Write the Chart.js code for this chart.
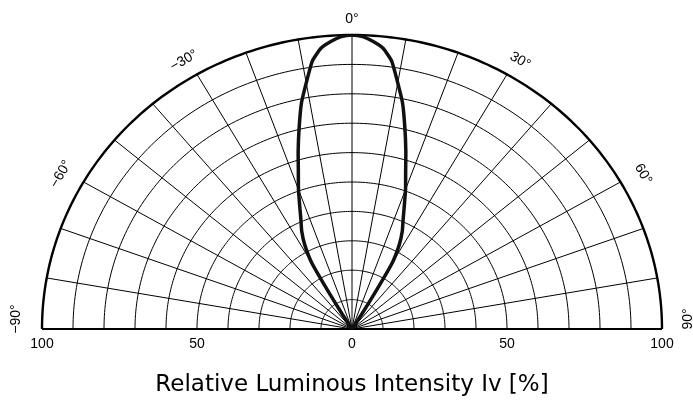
<!DOCTYPE html>
<html>
<head>
<meta charset="utf-8">
<script src="https://cdn.jsdelivr.net/npm/chart.js@4/dist/chart.umd.min.js"></script>
<style>
  body { margin: 0; background: #fff; }
  #wrap { width: 693px; height: 401px; }
</style>
</head>
<body>
<div id="wrap"><canvas id="polarChart"></canvas></div>
<script>
// Radiation pattern: angle (deg) vs relative intensity (%), one half, mirrored
const angles    = [0, 2, 4, 6, 8, 10, 12, 14, 16, 18, 20, 22, 24, 26, 28, 30, 31, 32, 33, 34, 40, 50, 60, 70, 80, 90];
const intensity = [100, 99.5, 98, 96, 92, 85, 78.5, 70.5, 63, 56, 50.5, 45, 40.5, 37, 32.5, 26, 15, 6, 1, 0, 0, 0, 0, 0, 0, 0];

// Grid
const rings = [10, 20, 30, 40, 50, 60, 70, 80, 90, 100];
const spokes = [-90, -80, -70, -60, -50, -40, -30, -20, -10, 0, 10, 20, 30, 40, 50, 60, 70, 80, 90];

// Labels
const angleLabelPos = [-90, -60, -30, 0, 30, 60, 90];
const angleLabelText = ['\u221290\u00b0', '\u221260\u00b0', '\u221230\u00b0', '0\u00b0', '30\u00b0', '60\u00b0', '90\u00b0'];
const tickValues = [-100, -50, 0, 50, 100];
const tickText = ['100', '50', '0', '50', '100'];
const axisTitle = 'Relative Luminous Intensity Iv [%]';

// build cartesian points from polar data (left half then right half)
function toXY(deg, r) {
    const a = deg * Math.PI / 180;
    return { x: r * Math.sin(a), y: r * Math.cos(a) };
}
const curve = [];
for (let i = angles.length - 1; i >= 0; i--) curve.push(toXY(-angles[i], intensity[i]));
for (let i = 1; i < angles.length; i++) curve.push(toXY(angles[i], intensity[i]));

// draws the half-polar grid and labels through the chart's scales
const polarGrid = {
    id: 'polarGrid',
    beforeDatasetsDraw(chart) {
        const { ctx } = chart;
        const xs = chart.scales.x, ys = chart.scales.y;
        const pt = (deg, r) => {
            const p = toXY(deg, r);
            return [xs.getPixelForValue(p.x), ys.getPixelForValue(p.y)];
        };
        ctx.save();
        ctx.strokeStyle = '#000';
        // rings
        rings.forEach(r => {
            ctx.beginPath();
            for (let d = -90; d <= 90; d += 1) {
                const [px, py] = pt(d, r);
                if (d === -90) ctx.moveTo(px, py); else ctx.lineTo(px, py);
            }
            ctx.lineWidth = r === 100 ? 2.4 : 1;
            ctx.stroke();
        });
        // spokes
        ctx.lineWidth = 1;
        spokes.forEach(d => {
            const [x0, y0] = pt(d, 0);
            const [x1, y1] = pt(d, 100);
            ctx.beginPath();
            ctx.moveTo(x0, y0);
            ctx.lineTo(x1, y1);
            ctx.stroke();
        });
        // baseline
        const [bx0, by0] = pt(-90, 100);
        const [bx1, by1] = pt(90, 100);
        ctx.beginPath();
        ctx.moveTo(bx0, by0);
        ctx.lineTo(bx1, by1);
        ctx.lineWidth = 2.2;
        ctx.stroke();
        ctx.restore();
    },
    afterDraw(chart) {
        const { ctx } = chart;
        const xs = chart.scales.x, ys = chart.scales.y;
        ctx.save();
        ctx.fillStyle = '#000';
        ctx.textAlign = 'center';
        ctx.textBaseline = 'middle';

        // angle labels, just outside the outer ring
        ctx.font = '14px "Liberation Sans", Arial, sans-serif';
        angleLabelPos.forEach((d, i) => {
            const a = d * Math.PI / 180;
            const px = xs.getPixelForValue(108.4 * Math.sin(a));
            const py = ys.getPixelForValue(105.4 * Math.cos(a)) - (Math.abs(d) === 90 ? 10 : 0);
            const rot = d === 90 ? -90 : d;
            ctx.save();
            ctx.translate(px, py);
            ctx.rotate(rot * Math.PI / 180);
            ctx.fillText(angleLabelText[i], 0, 0);
            ctx.restore();
        });

        // radial tick labels under the baseline
        ctx.font = '14px "Liberation Sans", Arial, sans-serif';
        const by = ys.getPixelForValue(0) + 15;
        tickValues.forEach((v, i) => {
            ctx.fillText(tickText[i], xs.getPixelForValue(v), by);
        });

        // axis title
        ctx.font = '23px "DejaVu Sans", Verdana, sans-serif';
        ctx.fillText(axisTitle, xs.getPixelForValue(0), 385);
        ctx.restore();
    }
};

const ctx = document.getElementById('polarChart');
new Chart(ctx, {
    type: 'scatter',
    data: {
        datasets: [{
            label: 'Iv',
            data: curve,
            showLine: true,
            borderColor: '#111',
            borderWidth: 3.5,
            pointRadius: 0,
            tension: 0.15,
            fill: false
        }]
    },
    options: {
        responsive: true,
        maintainAspectRatio: false,
        animation: false,
        layout: { padding: { left: 42, right: 31, top: 35, bottom: 72 } },
        plugins: {
            legend: { display: false },
            tooltip: { enabled: false }
        },
        scales: {
            x: { type: 'linear', min: -100, max: 100, display: false },
            y: { type: 'linear', min: 0, max: 100, display: false }
        }
    },
    plugins: [polarGrid]
});
</script>
</body>
</html>
